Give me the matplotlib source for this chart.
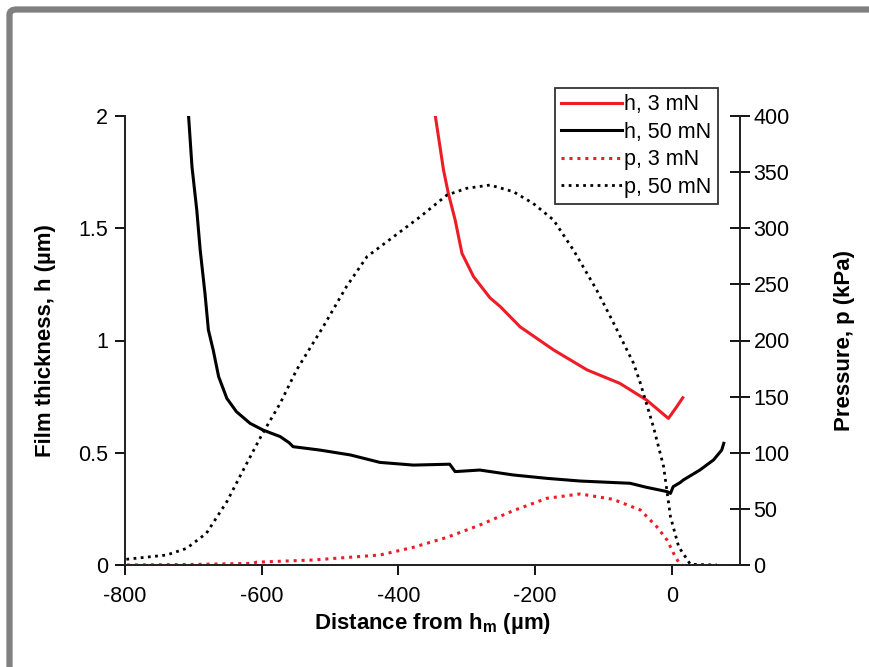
import matplotlib
matplotlib.use("Agg")
import matplotlib.pyplot as plt
from matplotlib.patches import FancyBboxPatch

plt.rcParams['font.family'] = ['Liberation Sans', 'DejaVu Sans']
plt.rcParams['axes.unicode_minus'] = False

# film thickness, 3 mN (red solid)
x_h3 = [-346, -334, -327, -317, -307, -290, -266, -251, -222, -173, -124, -76, -37, -5, 6, 16]
h_h3 = [2.0, 1.759, 1.656, 1.537, 1.388, 1.284, 1.19, 1.151, 1.061, 0.958, 0.869, 0.809, 0.735, 0.653, 0.70, 0.745]

# film thickness, 50 mN (black solid)
x_h50 = [-707, -702, -695, -690, -683, -678, -671, -663, -651, -637, -617, -598, -573, -560, -554, -515,
         -470, -427, -378, -325, -317, -281, -232, -183, -134, -61, -37, -7, -2, 2, 12, 17, 41, 61, 73, 76]
h_h50 = [2.0, 1.774, 1.581, 1.403, 1.21, 1.047, 0.958, 0.839, 0.742, 0.683, 0.631, 0.601, 0.572, 0.545, 0.527, 0.512,
         0.49, 0.457, 0.445, 0.449, 0.416, 0.423, 0.401, 0.386, 0.374, 0.364, 0.346, 0.327, 0.319, 0.349, 0.367, 0.379, 0.423, 0.468, 0.512, 0.542]

# pressure, 3 mN (red dotted)
x_p3 = [-797, -700, -612, -608, -524, -427, -378, -329, -281, -232, -183, -134, -86, -46, -22, -7, 5, 12, 15]
p_p3 = [0, 0.5, 1.5, 2.5, 4.5, 8.9, 15.8, 24.6, 35.6, 48.4, 59.4, 63.3, 58.5, 49, 34.1, 22.3, 7.4, 0.6, 0]

# pressure, 50 mN (black dotted)
x_p50 = [-798, -739, -710, -681, -651, -627, -600, -573, -549, -534, -510, -476, -446, -407, -368, -329, -300, -266,
         -232, -203, -173, -144, -110, -85, -56, -46, -27, -12, -2, 10, 27, 66]
p_p50 = [5.1, 8.9, 14.8, 28.2, 56.4, 84.6, 115.8, 144, 173.7, 188.6, 212.3, 248, 274.7, 292.5, 310.3, 329.6, 335.6, 338.5,
         332.6, 322.2, 307.3, 280.6, 245, 215.3, 179.7, 161.9, 123.2, 87.6, 43, 16.3, 0.6, 0]

red = '#ee1c25'
fs = 15.5

fig = plt.figure(figsize=(8.69, 6.67), dpi=100)
ax = fig.add_axes([125/869, 1-565/667, (739.5-125)/869, (565-116)/667])
ax2 = ax.twinx()

l1, = ax.plot(x_h3, h_h3, color=red, lw=2.2, label='h, 3 mN')
l2, = ax.plot(x_h50, h_h50, color='black', lw=2.2, label='h, 50 mN')
l3, = ax2.plot(x_p3, p_p3, color=red, lw=2.2, ls=(0, (1, 1.6)), label='p, 3 mN')
l4, = ax2.plot(x_p50, p_p50, color='black', lw=2.0, ls=(0, (1, 1.6)), label='p, 50 mN')

ax.set_xlim(-800, 99)
ax.set_ylim(0, 2)
ax2.set_ylim(0, 400)
ax.set_xticks([-800, -600, -400, -200, 0])
ax.set_yticks([0, 0.5, 1, 1.5, 2])
ax.set_yticklabels(['0', '0.5', '1', '1.5', '2'])
ax2.set_yticks(range(0, 401, 50))

for a in (ax, ax2):
    a.spines['top'].set_visible(False)
    for s in a.spines.values():
        s.set_linewidth(1.3)
        s.set_color('#222222')
ax.tick_params(axis='both', direction='out', length=7, width=1.3, labelsize=fs, pad=5)
ax.tick_params(axis='x', pad=8)
ax2.tick_params(axis='y', direction='inout', length=14, width=1.3, labelsize=fs, pad=3)

ax.set_xlabel('Distance from h$_\\mathregular{m}$ (\u00b5m)', fontsize=16, fontweight='bold', labelpad=3)
ax.set_ylabel('Film thickness, h (\u00b5m)', fontsize=16, fontweight='bold', labelpad=16)
ax2.set_ylabel('Pressure, p (kPa)', fontsize=16, fontweight='bold', labelpad=32)

leg = ax2.legend(handles=[l1, l2, l3, l4], loc='upper left', bbox_to_anchor=(555/869, 1-88/667),
                 bbox_transform=fig.transFigure, fontsize=fs, frameon=True, fancybox=False,
                 handlelength=2.8, handletextpad=0.1, labelspacing=0.3, borderpad=0.3,
                 borderaxespad=0)
leg.get_frame().set_edgecolor('black')
leg.get_frame().set_linewidth(1.3)

# grey frame around the picture
frame = FancyBboxPatch((9.5/869, -0.1), 1.2, 1.1 - 9.5/667,
                       boxstyle='round,pad=0,rounding_size=0.008', transform=fig.transFigure,
                       facecolor='none', edgecolor='#808080', lw=4.5, clip_on=False)
fig.add_artist(frame)

fig.savefig('out.png', dpi=100)
